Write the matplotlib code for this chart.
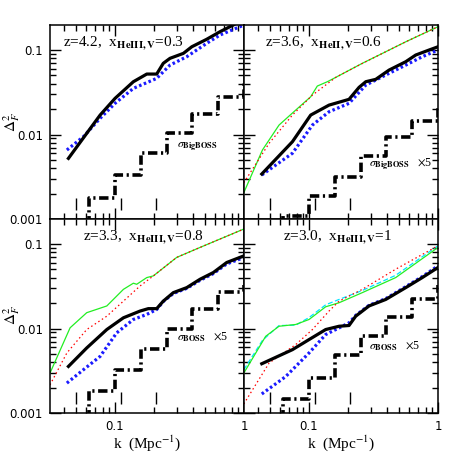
import matplotlib
matplotlib.use("Agg")
import matplotlib.pyplot as plt
from matplotlib.ticker import LogLocator, NullFormatter, FixedLocator, FixedFormatter

plt.rcParams['font.family'] = ['Liberation Serif']
plt.rcParams['mathtext.fontset'] = 'stix'

# ---- data ----
# panel 1: z=4.2
k1_black = [0.0435, 0.0603, 0.0766, 0.100, 0.1387, 0.1762, 0.2104, 0.2366, 0.2667, 0.3388, 0.3936, 0.5129, 0.6516, 0.826, 1.0]
d1_black = [0.00522, 0.01033, 0.0170, 0.0268, 0.0422, 0.0520, 0.0520, 0.0697, 0.0798, 0.0914, 0.1094, 0.134, 0.165, 0.198, 0.235]
k1_blue = [0.0423, 0.0568, 0.0766, 0.1, 0.1387, 0.2104, 0.2667, 0.3597, 0.5129, 0.6516, 1.0]
d1_blue = [0.00656, 0.00942, 0.01556, 0.0234, 0.0352, 0.0462, 0.0664, 0.0834, 0.120, 0.1507, 0.198]

# panel 2: z=3.6
k2_black = [0.0430, 0.0743, 0.1030, 0.1429, 0.2042, 0.2443, 0.2754, 0.3289, 0.4169, 0.5623, 0.6714, 0.851, 1.0]
d2_black = [0.00341, 0.00822, 0.0170, 0.0223, 0.0261, 0.0362, 0.0422, 0.0450, 0.0579, 0.0728, 0.0873, 0.100, 0.1094]
k2_blue = [0.0430, 0.0743, 0.1062, 0.1429, 0.2042, 0.2754, 0.4169, 0.5623, 0.7551, 1.0]
d2_blue = [0.00332, 0.0060, 0.01294, 0.0186, 0.0234, 0.0385, 0.0530, 0.0664, 0.0834, 0.100]
k2_red = [0.0312, 0.0490, 0.0743, 0.1062, 0.1611, 0.2443, 0.3491, 0.5623, 1.0]
d2_red = [0.00269, 0.00787, 0.0170, 0.0293, 0.0475, 0.0664, 0.0873, 0.1253, 0.189]
k2_green = [0.0312, 0.0435, 0.0585, 0.0789, 0.1030, 0.1159, 0.1387, 0.1611, 0.2588, 0.3491, 0.5623, 1.0]
d2_green = [0.00205, 0.00656, 0.01294, 0.0195, 0.0280, 0.0375, 0.0422, 0.0475, 0.0697, 0.0873, 0.1253, 0.189]

# panel 3: z=3.3
k3_black = [0.0435, 0.0603, 0.0863, 0.1161, 0.1563, 0.1811, 0.2104, 0.2366, 0.2831, 0.3597, 0.4560, 0.5781, 0.7345, 1.0]
d3_black = [0.00356, 0.00589, 0.00973, 0.0134, 0.0161, 0.0172, 0.0172, 0.0211, 0.0266, 0.0305, 0.0383, 0.0460, 0.0605, 0.0726]
k3_blue = [0.0423, 0.0568, 0.0766, 0.1030, 0.1387, 0.1762, 0.2104, 0.2366, 0.2831, 0.3597, 0.4560, 0.5781, 0.7345, 1.0]
d3_blue = [0.00226, 0.00325, 0.00468, 0.00889, 0.0128, 0.0147, 0.0168, 0.0209, 0.0260, 0.0299, 0.0372, 0.0447, 0.0582, 0.0693]
k3_red = [0.0313, 0.0423, 0.0603, 0.0863, 0.1161, 0.1563, 0.1982, 0.3006, 0.4560, 1.0]
d3_red = [0.00215, 0.00514, 0.00973, 0.0140, 0.0211, 0.0319, 0.0420, 0.0695, 0.0912, 0.151]
k3_green = [0.0313, 0.0448, 0.0603, 0.0863, 0.1161, 0.1387, 0.1472, 0.1762, 0.1982, 0.3006, 0.4560, 1.0]
d3_green = [0.00297, 0.0102, 0.0154, 0.0185, 0.0291, 0.0344, 0.0334, 0.0401, 0.0420, 0.0695, 0.0912, 0.151]

# panel 4: z=3.0
k4_black = [0.0430, 0.0743, 0.1, 0.1346, 0.1710, 0.2042, 0.2301, 0.2917, 0.3936, 0.5623, 0.7551, 1.0]
d4_black = [0.00383, 0.00562, 0.0074, 0.00973, 0.01064, 0.01086, 0.0140, 0.0185, 0.0221, 0.0305, 0.0401, 0.0528]
k4_blue = [0.0430, 0.0659, 0.1, 0.1346, 0.1811, 0.2042, 0.2301, 0.2917, 0.3936, 0.5623, 0.7551, 1.0]
d4_blue = [0.00168, 0.00270, 0.00514, 0.00849, 0.01064, 0.01167, 0.0143, 0.0188, 0.0226, 0.0313, 0.0412, 0.0552]
k4_red = [0.0312, 0.0490, 0.0789, 0.1062, 0.1429, 0.1710, 0.2588, 0.4699, 1.0]
d4_red = [0.00128, 0.00391, 0.00646, 0.00973, 0.0161, 0.0211, 0.0291, 0.0504, 0.0955]
k4_green = [0.0312, 0.0461, 0.0585, 0.0789, 0.1, 0.1346, 0.1710, 0.2588, 0.4699, 1.0]
d4_green = [0.00297, 0.00809, 0.01064, 0.01117, 0.0128, 0.0181, 0.0202, 0.0266, 0.0401, 0.0912]
k4_cyan = [0.0312, 0.0435, 0.0585, 0.0789, 0.1, 0.1346, 0.1710, 0.2588, 0.4699, 1.0]
d4_cyan = [0.00325, 0.00724, 0.01084, 0.01096, 0.0135, 0.0191, 0.0221, 0.0282, 0.0427, 0.0955]

# survey error steps (bin edges in k, value per bin, last = end cap)
k_bins = [0.04, 0.063, 0.1, 0.158, 0.251, 0.398, 0.631, 1.0]
sig1 = [0.0006, 0.00179, 0.0033, 0.0060, 0.0103, 0.0175, 0.028, 0.042]
sig2 = [0.0006, 0.00109, 0.00187, 0.00317, 0.00557, 0.0093, 0.0146, 0.022]
sig3 = [0.0006, 0.0018, 0.00325, 0.00578, 0.0100, 0.0168, 0.027, 0.033]
sig4 = [0.0006, 0.00147, 0.00263, 0.0048, 0.0081, 0.0138, 0.0221, 0.033]

k_marks = [0.05, 0.112, 0.208]
mark_lo, mark_hi = 0.00128, 0.00178

titles = [r"z=4.2,  x$_{\mathbf{HeIII,V}}$=0.3",
          r"z=3.6,  x$_{\mathbf{HeII,V}}$=0.6",
          r"z=3.3,  x$_{\mathbf{HeIII,V}}$=0.8",
          r"z=3.0,  x$_{\mathbf{HeIII,V}}$=1"]
title_x = [0.067, 0.108, 0.17, 0.20]
sig_labels = [r"$\sigma_{\mathbf{BigBOSS}}$",
              r"$\sigma_{\mathbf{BigBOSS}}$   $\times$5",
              r"$\sigma_{\mathbf{BOSS}}$   $\times$5",
              r"$\sigma_{\mathbf{BOSS}}$   $\times$5"]
sig_pos = [(0.30, 0.0072), (0.29, 0.0044), (0.30, 0.0078), (0.29, 0.0061)]

panels = [
    dict(black=(k1_black, d1_black), blue=(k1_blue, d1_blue), sig=sig1),
    dict(black=(k2_black, d2_black), blue=(k2_blue, d2_blue), red=(k2_red, d2_red),
         green=(k2_green, d2_green), sig=sig2),
    dict(black=(k3_black, d3_black), blue=(k3_blue, d3_blue), red=(k3_red, d3_red),
         green=(k3_green, d3_green), sig=sig3),
    dict(black=(k4_black, d4_black), blue=(k4_blue, d4_blue), red=(k4_red, d4_red),
         green=(k4_green, d4_green), cyan=(k4_cyan, d4_cyan), sig=sig4),
]

fig = plt.figure(figsize=(4.63, 4.63), dpi=100)
L, W = 0.108, 0.419
rects = [[L, 0.527, W, W], [L + W, 0.527, W, W], [L, 0.108, W, W], [L + W, 0.108, W, W]]

for i, p in enumerate(panels):
    ax = fig.add_axes(rects[i])
    ax.set_xscale('log')
    ax.set_yscale('log')

    if 'cyan' in p:
        ax.plot(*p['cyan'], color='#00e5ff', lw=0.9, dashes=(4, 2))
    if 'green' in p:
        ax.plot(*p['green'], color='#22ee22', lw=0.9)
    if 'red' in p:
        ax.plot(*p['red'], color='red', lw=0.9, dashes=(1.2, 2.2))
    ax.plot(*p['blue'], color='#1a1aff', lw=2.3, dashes=(0.8, 0.8))
    ax.plot(*p['black'], color='black', lw=2.3)
    ax.step(k_bins, p['sig'], where='post', color='black', lw=2.6,
            dashes=(2.6, 1.0, 0.6, 1.0))
    ax.vlines(k_marks, mark_lo, mark_hi, color='black', lw=1.0)

    ax.text(title_x[i], 0.95, titles[i], transform=ax.transAxes, fontsize=11, va='top')
    ax.text(sig_pos[i][0], sig_pos[i][1], sig_labels[i], fontsize=8.5, va='center')

    ax.set_xlim(0.0313, 1.0)
    ax.set_ylim(0.001, 0.198)

    ax.xaxis.set_major_locator(FixedLocator([0.1, 1.0]))
    ax.xaxis.set_minor_locator(LogLocator(base=10, subs=range(2, 10)))
    ax.yaxis.set_major_locator(FixedLocator([0.001, 0.01, 0.1]))
    ax.yaxis.set_minor_locator(LogLocator(base=10, subs=range(2, 10)))
    ax.xaxis.set_minor_formatter(NullFormatter())
    ax.yaxis.set_minor_formatter(NullFormatter())
    ax.tick_params(which='both', direction='in', top=True, right=True, width=1.0)
    ax.tick_params(which='major', length=8)
    ax.tick_params(which='minor', length=4)

    if i in (2, 3):
        ax.xaxis.set_major_formatter(FixedFormatter(['0.1', '1']))
        ax.set_xlabel(r"k  (Mpc$^{-1}$)", fontsize=11, labelpad=0)
    else:
        ax.xaxis.set_major_formatter(NullFormatter())
    if i in (0, 2):
        ax.yaxis.set_major_formatter(FixedFormatter(['0.001', '0.01', '0.1']))
    else:
        ax.yaxis.set_major_formatter(NullFormatter())
    ax.tick_params(axis='both', which='major', labelsize=8.5, pad=5)
    for lab in ax.get_xticklabels() + ax.get_yticklabels():
        lab.set_family('DejaVu Sans')
    for s in ax.spines.values():
        s.set_linewidth(1.1)

fig.text(12 / 463, 1 - 122 / 463, r"$\Delta^2_F$", rotation=90, fontsize=11,
         ha='center', va='center')
fig.text(12 / 463, 1 - 315 / 463, r"$\Delta^2_F$", rotation=90, fontsize=11,
         ha='center', va='center')

fig.savefig("out.png", dpi=100)
